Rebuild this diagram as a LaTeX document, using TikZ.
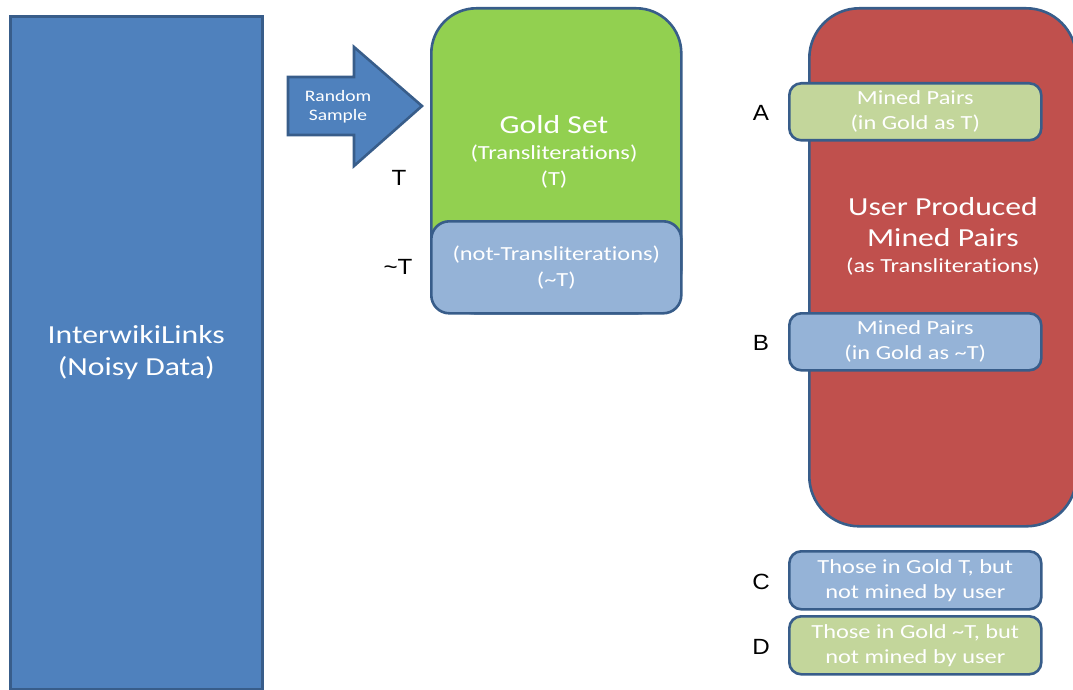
\documentclass[tikz,border=0pt]{standalone}
\usepackage{fontspec}
\setmainfont{Carlito}[FakeStretch=1.22, Ligatures=NoCommon]
\newfontfamily\labfont{Liberation Sans}[FakeStretch=1.1]
\definecolor{bluefill}{HTML}{4F81BD}
\definecolor{bordc}{HTML}{385D8A}
\definecolor{greenfill}{HTML}{92D050}
\definecolor{redfill}{HTML}{C0504D}
\definecolor{lblue}{HTML}{95B3D7}
\definecolor{lgreen}{HTML}{C3D69B}
\begin{document}
\begin{tikzpicture}[x=1pt,y=-1pt,
  box/.style={draw=bordc, line width=2.6pt, text=white, align=center, inner sep=0pt, anchor=north west},
  small/.style={box, minimum width=252pt, rounded corners=12pt, font=\fontsize{20}{25}\selectfont},
  big/.style={text=white, align=center, inner sep=0pt, font=\fontsize{26}{31}\selectfont},
  sub/.style={text=white, align=center, inner sep=0pt, font=\fontsize{20}{26}\selectfont},
  lab/.style={text=black, inner sep=0pt, font=\labfont\fontsize{22}{26}\selectfont}]
\useasboundingbox (0,0) rectangle (1073,690);
\clip (0,0) rectangle (1073,690);
% left block
\node[box, fill=bluefill, minimum width=252pt, minimum height=673pt, font=\fontsize{26}{32}\selectfont] (iw) at (9,15) {InterwikiLinks\\(Noisy Data)};
% arrow
\draw[draw=bordc, fill=bluefill, line width=2.6pt, line join=miter] (288,77) -- (354,77) -- (354,47) -- (422,106) -- (354,166) -- (354,135) -- (288,135) -- cycle;
\node[text=white, align=center, inner sep=0pt, font=\fontsize{16}{19}\selectfont] (rs) at (338,107) {Random\\Sample};
% gold set
\node[box, fill=greenfill, rounded corners=45pt, minimum width=250pt, minimum height=305pt] (gold) at (430,7) {};
\node[big] (goldt) at (554,125) {Gold Set};
\node[sub] (golds) at (554,167) {(Transliterations)\\(T)};
\node[box, fill=lblue, rounded corners=18pt, minimum width=250pt, minimum height=92pt, font=\fontsize{20}{26}\selectfont] (notT) at (430,220) {(not-Transliterations)\\(\textasciitilde T)};
\node[lab] (lT) at (399,178) {T};
\node[lab] (lnT) at (398,267) {\textasciitilde T};
% user produced
\node[box, fill=redfill, rounded corners=50pt, minimum width=267pt, minimum height=518pt] (user) at (808,7) {};
\node[big] (usert) at (943,222) {User Produced\\Mined Pairs};
\node[sub] (users) at (943,267) {(as Transliterations)};
\node[small, fill=lgreen, minimum height=57pt] (A) at (788,82) {Mined Pairs\\(in Gold as T)};
\node[small, fill=lblue, minimum height=57pt] (B) at (788,312) {Mined Pairs\\(in Gold as \textasciitilde T)};
\node[small, fill=lblue, minimum height=58pt] (C) at (788,550) {Those in Gold T, but\\not mined by user};
\node[small, fill=lgreen, minimum height=58pt] (D) at (788,615) {Those in Gold \textasciitilde T, but\\not mined by user};
\node[lab] (lA) at (761,113) {A};
\node[lab] (lB) at (761,343) {B};
\node[lab] (lC) at (761,582) {C};
\node[lab] (lD) at (761,647) {D};
\end{tikzpicture}
\end{document}
